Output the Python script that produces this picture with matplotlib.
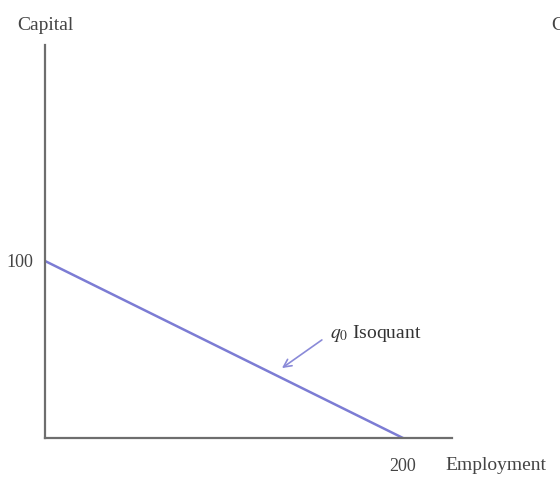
import numpy as np
import matplotlib
matplotlib.use('Agg')
import matplotlib.pyplot as plt

plt.rcParams['font.family'] = ['Liberation Serif', 'DejaVu Serif']
plt.rcParams['mathtext.fontset'] = 'stix'

# isoquant endpoints (employment, capital)
employment = [0, 200]
capital = [100, 0]
xticks = [200]
yticks = [100]

fig = plt.figure(figsize=(5.6, 4.94), dpi=100)
ax = fig.add_axes([45/560, 56/494, 407/560, 393/494])

ax.plot(employment, capital, color='#7c7cd4', lw=1.8, solid_capstyle='butt')

ax.set_xlim(0, 227.4)
ax.set_ylim(0, 222)
for s in ['top', 'right']:
    ax.spines[s].set_visible(False)
for s in ['left', 'bottom']:
    ax.spines[s].set_color('#6e6e6e')
    ax.spines[s].set_linewidth(1.6)

ax.set_xticks(xticks)
ax.set_yticks(yticks)
ax.set_xticklabels([str(v) for v in xticks])
ax.set_yticklabels([str(v) for v in yticks])
ax.tick_params(length=0, labelsize=13, colors='#444444')
ax.tick_params(axis='x', pad=14.5)
ax.tick_params(axis='y', pad=8.5)

# arrow and label
ax.annotate('', xy=(132.4, 39.5), xytext=(154.7, 55.4),
            arrowprops=dict(arrowstyle='->', color='#8a8ad8', lw=1.2,
                            shrinkA=0, shrinkB=0, mutation_scale=14))
ax.text(159.2, 59.3, r'$q_0$ Isoquant', fontsize=14, color='#333333',
        va='center', ha='left')

fig.text(45/560, 1 - 25/494, 'Capital', ha='center', va='center',
         fontsize=14, color='#444444')
fig.text(496/560, 1 - 465/494, 'Employment', ha='center', va='center',
         fontsize=14, color='#444444')
fig.text(551/560, 1 - 26/494, 'C', ha='left', va='center',
         fontsize=14, color='#444444')

fig.savefig('out.png', dpi=100)
